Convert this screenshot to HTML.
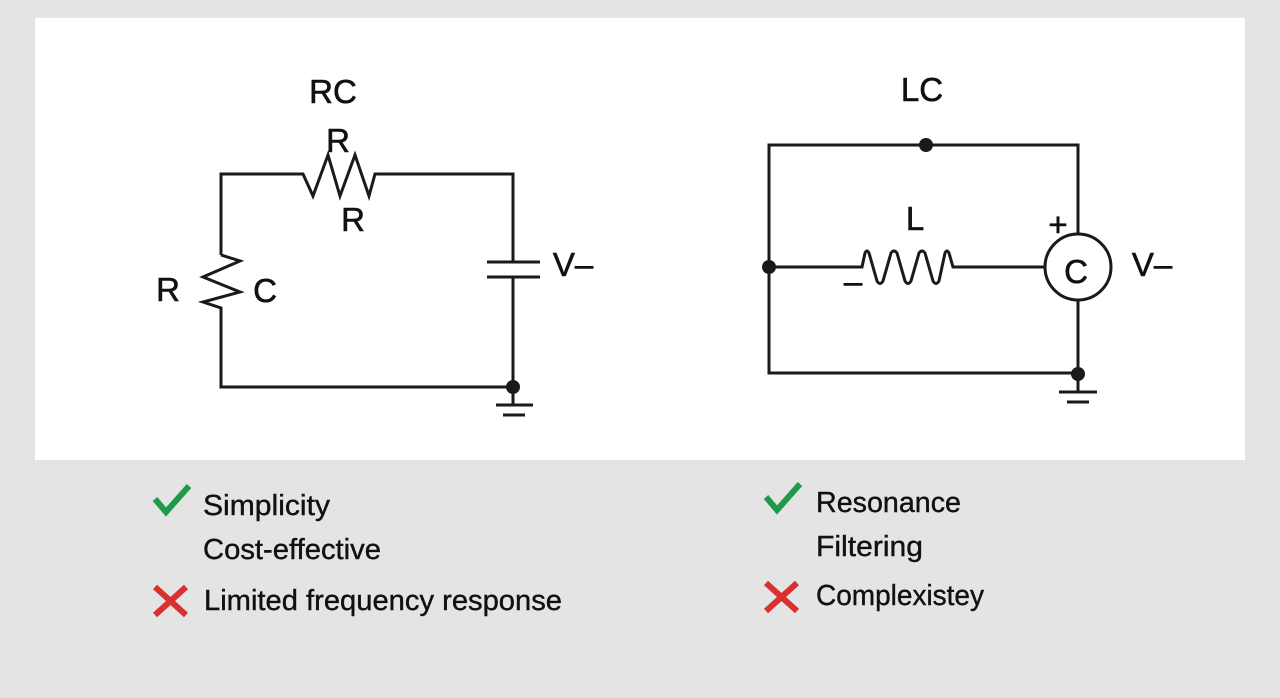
<!DOCTYPE html>
<html><head><meta charset="utf-8"><style>
html,body{margin:0;padding:0;background:#e4e4e4;}
svg{display:block}
text{font-family:"Liberation Sans",sans-serif;fill:#111;}
</style></head><body>
<svg width="1280" height="698" viewBox="0 0 1280 698">
<rect width="1280" height="698" fill="#e4e4e4"/>
<rect x="35" y="18" width="1210" height="442" fill="#ffffff"/>
<g fill="none" stroke="#1a1a1a" stroke-width="3" stroke-linejoin="miter">
<!-- RC -->
<polyline points="221,255 221,174 303,174 313,196 328,155 340,196 355,155 369,196 375,174 513,174 513,262"/>
<polyline points="221,255 240,261 203,277 240,292 203,302 221,308 221,387 513,387"/>
<line x1="487" y1="262" x2="540" y2="262"/>
<line x1="487" y1="277" x2="540" y2="277"/>
<line x1="513" y1="277" x2="513" y2="405"/>
<line x1="496" y1="405" x2="533" y2="405"/>
<line x1="503" y1="415" x2="525" y2="415"/>
<!-- LC -->
<rect x="769" y="145" width="309" height="228"/>
<path d="M769,267 L862,267 L865,253 Q867,249 869,253 L877,281 Q880,286 883,281 L891,253 Q894,249 897,253 L905,281 Q908,286 911,281 L919,253 Q922,249 925,253 L933,281 Q936,286 939,281 L945,253 Q947,249 949,253 L953,267 L1045,267"/>
<circle cx="1078" cy="267" r="33" fill="#fff"/>
<line x1="1078" y1="373" x2="1078" y2="392"/>
<line x1="1059" y1="392" x2="1097" y2="392"/>
<line x1="1067" y1="402" x2="1089" y2="402"/>
</g>
<g fill="#1a1a1a">
<circle cx="513" cy="387" r="7"/>
<circle cx="926" cy="145" r="7"/>
<circle cx="769" cy="267" r="7"/>
<circle cx="1078" cy="374" r="7"/>
</g>
<g font-size="33" text-anchor="middle" stroke="#111" stroke-width="0.6">
<text x="333" y="103">RC</text>
<text x="338" y="152">R</text>
<text x="353" y="231">R</text>
<text x="168" y="301">R</text>
<text x="265" y="302">C</text>
<text x="573" y="276">V–</text>
<text x="922" y="101">LC</text>
<text x="915" y="230">L</text>
<text x="1058" y="236">+</text>
<text x="853" y="293">–</text>
<text x="1076" y="283">C</text>
<text x="1152" y="276">V–</text>
</g>
<!-- lists -->
<g stroke-linecap="butt" fill="none" stroke-width="6">
<polyline points="155,499 166,512 189,486" stroke="#1e9a4a"/>
<polyline points="766,497 777,510 800,484" stroke="#1e9a4a"/>
<path d="M155,587 L186,615 M186,587 L155,615" stroke="#d93030"/>
<path d="M766,583 L797,611 M797,583 L766,611" stroke="#d93030"/>
</g>
<g font-size="29" stroke="#111" stroke-width="0.4">
<text x="203" y="515" textLength="127" lengthAdjust="spacingAndGlyphs">Simplicity</text>
<text x="203" y="559" textLength="178" lengthAdjust="spacingAndGlyphs">Cost-effective</text>
<text x="204" y="610" textLength="358" lengthAdjust="spacingAndGlyphs">Limited frequency response</text>
<text x="816" y="512" textLength="145" lengthAdjust="spacingAndGlyphs">Resonance</text>
<text x="816" y="556" textLength="107" lengthAdjust="spacingAndGlyphs">Filtering</text>
<text x="816" y="605" textLength="168" lengthAdjust="spacingAndGlyphs">Complexistey</text>
</g>
</svg>
</body></html>
